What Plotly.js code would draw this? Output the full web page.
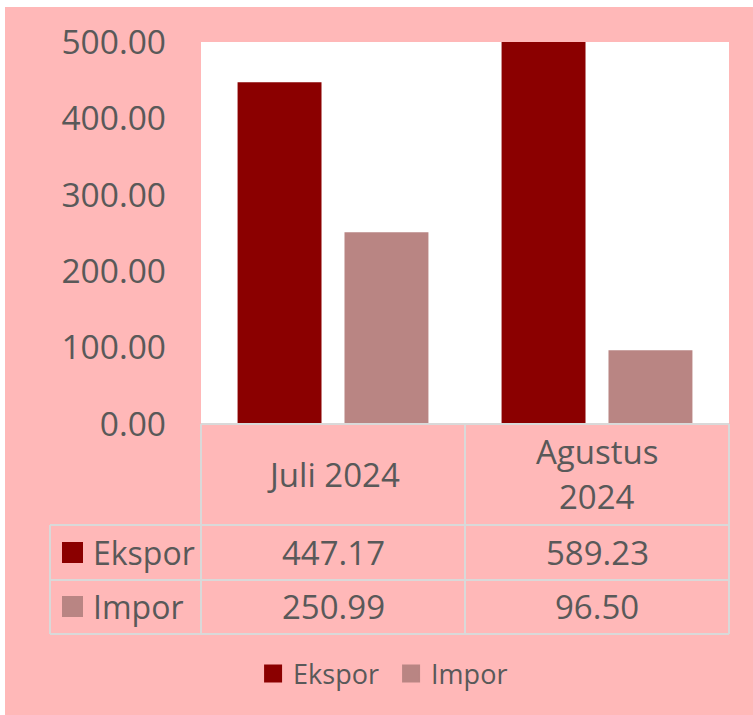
<!DOCTYPE html>
<html>
<head>
<meta charset="utf-8">
<script src="https://cdn.plot.ly/plotly-3.0.1.min.js"></script>
<style>
  html, body { margin: 0; padding: 0; background: #ffffff; }
  #chart { position: absolute; left: 5px; top: 7px; width: 748px; height: 708px; }
</style>
</head>
<body>
<div id="chart"></div>
<script>
// ---- data ----
const categories = ['Juli 2024', 'Agustus 2024'];
const categoryLabelLines = [['Juli 2024'], ['Agustus', '2024']];
const seriesNames = ['Ekspor', 'Impor'];
const ekspor = [447.17, 589.23];
const impor = [250.99, 96.50];
const yTicks = [0, 100, 200, 300, 400, 500];

// ---- styles ----
const colors = ['#8B0000', '#B98583'];
const bg = '#FFB8B8';
const textColor = '#595959';
const gridColor = '#D9D9D9';
const fontFamily = '"Open Sans", "Noto Sans", sans-serif';

const seriesValues = [ekspor, impor];

// plot area geometry (px inside div)
const W = 748, H = 708;
const mL = 196, mT = 35, mR = 24, mB = 291;
const pw = W - mL - mR, ph = H - mT - mB;
const px = x => (x - 5 - mL) / pw;          // page x -> paper x
const py = y => (mT + ph - (y - 7)) / ph;   // page y -> paper y

const traces = [];
seriesNames.forEach((name, i) => {
  traces.push({
    type: 'bar', name: name, x: categories, y: seriesValues[i],
    marker: { color: colors[i] }, showlegend: false, legendgroup: name,
    hoverinfo: 'skip'
  });
});
seriesNames.forEach((name, i) => {
  traces.push({
    type: 'scatter', mode: 'markers', name: name, x: [categories[0]], y: [null],
    marker: { symbol: 'square', size: 16, color: colors[i], line: { color: colors[i], width: 2 } },
    legendgroup: name, hoverinfo: 'skip'
  });
});

const shapes = [];
const line = (x0, y0, x1, y1) => shapes.push({
  type: 'line', xref: 'paper', yref: 'paper', x0, y0, x1, y1,
  line: { color: gridColor, width: 2 }
});
// table grid
line(px(201), py(424), px(729), py(424));
line(px(50), py(525), px(729), py(525));
line(px(50), py(580), px(729), py(580));
line(px(50), py(634), px(729), py(634));
line(px(50), py(525), px(50), py(634));
line(px(201), py(424), px(201), py(634));
line(px(465), py(424), px(465), py(634));
line(px(729), py(424), px(729), py(634));

const annotations = [];
// category header row (lines laid out centered in the header cell)
const headerCenter = 474, headerLineGap = 45;
categories.forEach((c, j) => {
  const lines = categoryLabelLines[j];
  lines.forEach((t, k) => {
    const yc = headerCenter + (k - (lines.length - 1) / 2) * headerLineGap;
    annotations.push({
      xref: 'x', yref: 'paper', x: c, y: py(yc), text: t,
      showarrow: false, xanchor: 'center', yanchor: 'middle',
      font: { family: fontFamily, size: 33, color: textColor }
    });
  });
});
// value rows + row labels
const rowCenters = [552, 606];
const squareTops = [542, 596];
seriesNames.forEach((name, i) => {
  shapes.push({
    type: 'rect', xref: 'paper', yref: 'paper',
    x0: px(62), x1: px(83), y0: py(squareTops[i] + 21), y1: py(squareTops[i]),
    fillcolor: colors[i], line: { width: 0 }
  });
  annotations.push({
    xref: 'paper', yref: 'paper', x: px(91), y: py(rowCenters[i]), text: name,
    showarrow: false, xanchor: 'left', yanchor: 'middle',
    font: { family: fontFamily, size: 32, color: textColor }
  });
  categories.forEach((c, j) => {
    annotations.push({
      xref: 'x', yref: 'paper', x: c, y: py(rowCenters[i]),
      text: seriesValues[i][j].toFixed(2),
      showarrow: false, xanchor: 'center', yanchor: 'middle',
      font: { family: fontFamily, size: 33, color: textColor }
    });
  });
});

const layout = {
  width: W, height: H,
  margin: { l: mL, r: mR, t: mT, b: mB, pad: 0 },
  paper_bgcolor: bg, plot_bgcolor: '#ffffff',
  barmode: 'group', bargap: 0.19, bargroupgap: 0.215,
  hovermode: false,
  font: { family: fontFamily, color: textColor },
  xaxis: {
    type: 'category', categoryorder: 'array', categoryarray: categories,
    showticklabels: false, showgrid: false, zeroline: false, showline: false, ticks: ''
  },
  yaxis: {
    range: [0, 500], tickvals: yTicks, ticktext: yTicks.map(v => v.toFixed(2)),
    showgrid: false, zeroline: false, showline: false, ticks: '',
    ticklabelstandoff: 34,
    tickfont: { family: fontFamily, size: 33.5, color: textColor }
  },
  showlegend: true,
  legend: {
    orientation: 'h', x: 0.36, xanchor: 'center', y: py(674), yanchor: 'middle',
    bgcolor: 'rgba(0,0,0,0)', font: { family: fontFamily, size: 27, color: textColor },
    itemwidth: 30, traceorder: 'normal', entrywidth: 93, entrywidthmode: 'pixels'
  },
  shapes, annotations
};

Plotly.newPlot('chart', traces, layout, { displayModeBar: false, staticPlot: true });
</script>
</body>
</html>
